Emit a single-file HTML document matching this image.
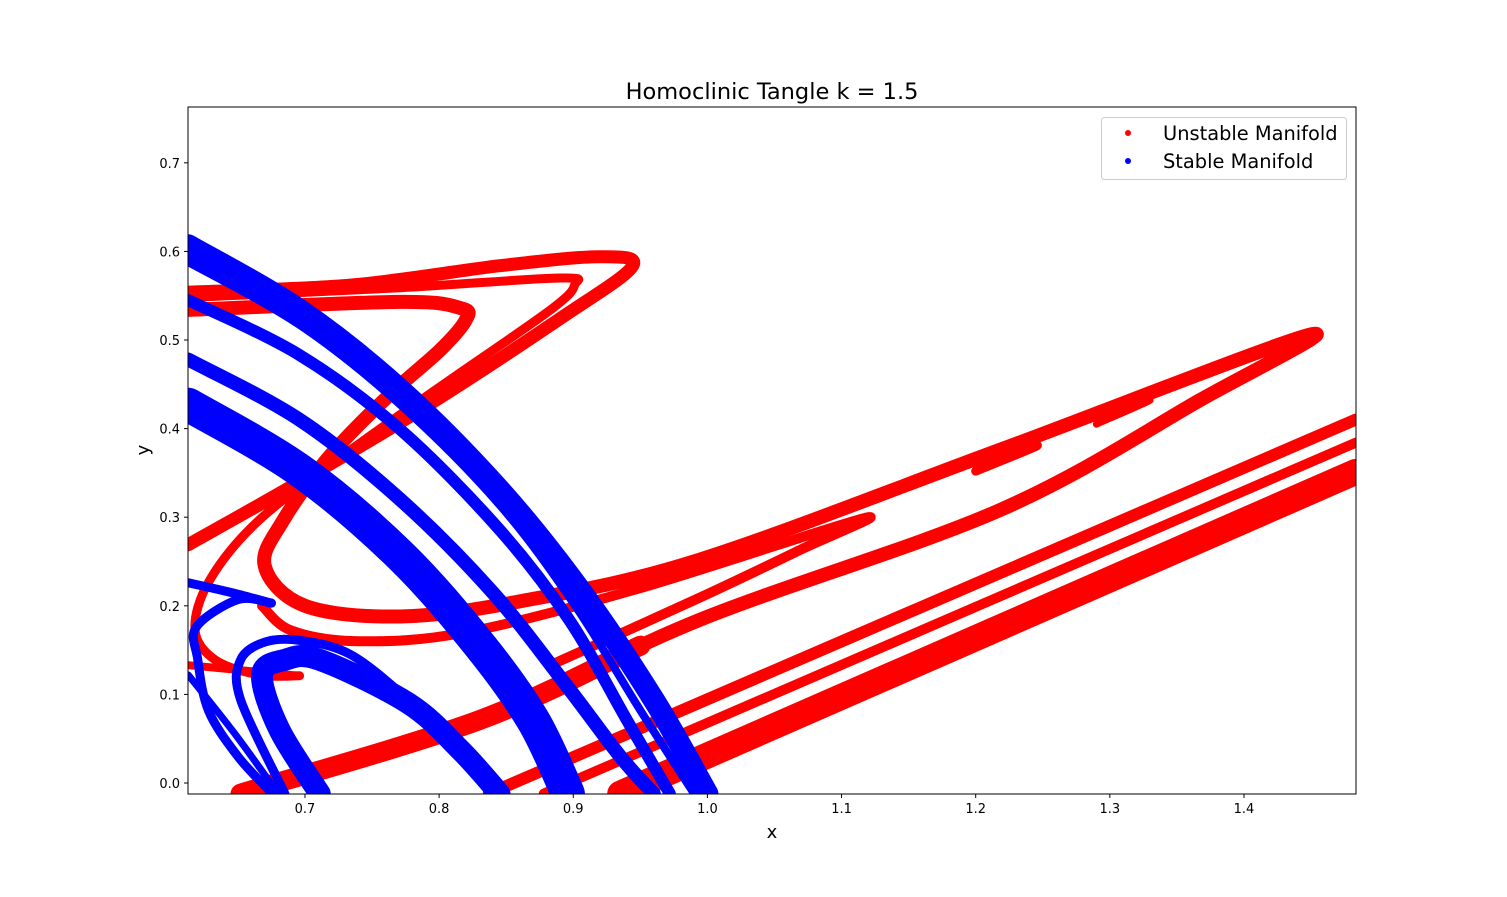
<!DOCTYPE html>
<html><head><meta charset="utf-8"><style>
body{margin:0;background:#fff;}
svg text{font-family:"DejaVu Sans","Liberation Sans",sans-serif;}
</style></head><body>
<svg id="chart" width="1507" height="892" xmlns="http://www.w3.org/2000/svg">
<rect width="1507" height="892" fill="#fff"/>
<defs><clipPath id="plotclip"><rect x="188" y="107" width="1168" height="687"/></clipPath></defs>
<g id="series" clip-path="url(#plotclip)"></g>
<rect x="188" y="107" width="1168" height="687" fill="none" stroke="#000" stroke-width="1"/>
<g id="axes"></g>
<text x="772" y="99" font-size="22.5" text-anchor="middle">Homoclinic Tangle k = 1.5</text>
<text x="772" y="838" font-size="18" text-anchor="middle">x</text>
<text x="149" y="450" font-size="18" text-anchor="middle" transform="rotate(-90 149 450)">y</text>
<g>
<rect x="1101.5" y="117.5" width="245" height="62" rx="3" fill="#fff" fill-opacity="0.8" stroke="#ccc"/>
<circle cx="1128" cy="133" r="3" fill="#ff0000"/>
<text x="1163" y="140" font-size="19.4">Unstable Manifold</text>
<circle cx="1128" cy="161" r="3" fill="#0000ff"/>
<text x="1163" y="168" font-size="19.4">Stable Manifold</text>
</g>
</svg>
<script>
const xTicks=[0.7,0.8,0.9,1.0,1.1,1.2,1.3,1.4];
const yTicks=[0.0,0.1,0.2,0.3,0.4,0.5,0.6,0.7];
const xTickLabels=["0.7","0.8","0.9","1.0","1.1","1.2","1.3","1.4"];
const yTickLabels=["0.0","0.1","0.2","0.3","0.4","0.5","0.6","0.7"];
// unstable manifold (red) branches, data coords [x,y]
const redOuterLoop=[[0.613,0.554],[0.734,0.562],[0.846,0.584],[0.920,0.594],[0.944,0.583],[0.890,0.524],[0.786,0.421],[0.696,0.340],[0.613,0.269]];
const redMiddleLoop=[[0.613,0.548],[0.771,0.559],[0.890,0.570],[0.901,0.562],[0.883,0.534],[0.808,0.455],[0.734,0.376],[0.666,0.297],[0.629,0.229],[0.618,0.173],[0.633,0.139],[0.666,0.122],[0.696,0.121]];
const redBottomLeft=[[0.613,0.133],[0.696,0.121]];
const redBigLoop=[[0.613,0.534],[0.771,0.543],[0.816,0.536],[0.820,0.523],[0.801,0.489],[0.763,0.438],[0.719,0.370],[0.684,0.297],[0.670,0.245],[0.700,0.200],[0.771,0.188],[0.860,0.205],[0.994,0.252],[1.218,0.376],[1.449,0.506],[1.367,0.432],[1.218,0.308],[0.994,0.184],[0.830,0.071],[0.652,-0.012]];
const redLowerArm=[[0.950,0.155],[0.830,0.071],[0.652,-0.012]];
const redTip2=[[0.668,0.200],[0.690,0.172],[0.740,0.160],[0.820,0.170],[0.950,0.220],[1.117,0.299],[1.069,0.263],[0.994,0.209],[0.883,0.133]];
const redTip3=[[1.20,0.360],[1.246,0.381],[1.20,0.352]];
const redTip4=[[1.29,0.410],[1.33,0.432],[1.29,0.405]];
const redBand1=[[0.837,-0.012],[1.483,0.410]];
const redBand2=[[0.878,-0.012],[1.483,0.384]];
const redBand3=[[0.935,-0.012],[1.483,0.351]];
// stable manifold (blue) branches
const blueA=[[0.613,0.607],[0.696,0.534],[0.771,0.444],[0.845,0.331],[0.905,0.218],[0.960,0.094],[1.000,-0.012]];
const blueB=[[0.613,0.588],[0.696,0.517],[0.771,0.427],[0.845,0.314],[0.901,0.201],[0.950,0.082],[0.990,-0.012]];
const blueC=[[0.613,0.545],[0.696,0.483],[0.771,0.399],[0.845,0.286],[0.897,0.184],[0.940,0.071],[0.972,-0.012]];
const blueD=[[0.613,0.478],[0.696,0.410],[0.771,0.320],[0.840,0.215],[0.895,0.110],[0.935,0.030],[0.960,-0.012]];
const blueE=[[0.613,0.427],[0.696,0.353],[0.771,0.257],[0.830,0.156],[0.870,0.071],[0.896,-0.012]];
const blueL1=[[0.613,0.122],[0.648,0.055],[0.680,-0.012]];
const blueHook1=[[0.675,0.203],[0.645,0.215],[0.613,0.226]];
const blueHook2=[[0.675,0.203],[0.650,0.207],[0.619,0.176],[0.620,0.140],[0.628,0.082],[0.650,0.030],[0.675,-0.011]];
const blueLoop1=[[0.685,-0.012],[0.652,0.094],[0.652,0.139],[0.670,0.159],[0.696,0.161],[0.734,0.145],[0.777,0.094],[0.816,0.037],[0.838,-0.012]];
const blueLoop2=[[0.711,-0.012],[0.681,0.060],[0.668,0.122],[0.685,0.139],[0.711,0.139],[0.777,0.090],[0.816,0.037],[0.845,-0.012]];

const X0=0.6128,X1=1.4835,Y0=-0.0124,Y1=0.763;
const PL=188,PR=1356,PT=107,PB=794;
function sx(v){return PL+(v-X0)/(X1-X0)*(PR-PL);}
function sy(v){return PB-(v-Y0)/(Y1-Y0)*(PB-PT);}
const NS="http://www.w3.org/2000/svg";
function pathFor(pts){
  const p=pts.map(d=>[sx(d[0]),sy(d[1])]);
  let s="M"+p[0][0]+","+p[0][1];
  for(let i=0;i<p.length-1;i++){
    const a=p[Math.max(0,i-1)],b=p[i],c=p[i+1],d=p[Math.min(p.length-1,i+2)];
    const c1=[b[0]+(c[0]-a[0])/6,b[1]+(c[1]-a[1])/6];
    const c2=[c[0]-(d[0]-b[0])/6,c[1]-(d[1]-b[1])/6];
    s+=" C"+c1[0]+","+c1[1]+" "+c2[0]+","+c2[1]+" "+c[0]+","+c[1];
  }
  return s;
}
const g=document.getElementById('series');
function draw(pts,color,w,name){
  const el=document.createElementNS(NS,'path');
  el.setAttribute('d',pathFor(pts));
  el.setAttribute('fill','none');
  el.setAttribute('stroke',color);
  el.setAttribute('stroke-width',w);
  el.setAttribute('stroke-linecap','round');
  el.setAttribute('stroke-linejoin','round');
  
  
  g.appendChild(el);
}
const R="#ff0000",B="#0000ff";
draw(redOuterLoop,R,13,'unstable-outer-loop');
draw(redMiddleLoop,R,9,'unstable-middle-loop');
draw(redBottomLeft,R,8,'unstable-bottom-left');
draw(redBigLoop,R,14,'unstable-big-loop');
draw(redLowerArm,R,20,'unstable-lower-arm');
draw(redTip2,R,10,'unstable-tip-2');
draw(redTip3,R,9,'unstable-tip-3');
draw(redTip4,R,7,'unstable-tip-4');
draw(redBand1,R,12,'unstable-band-1');
draw(redBand2,R,10,'unstable-band-2');
draw(redBand3,R,26,'unstable-band-3');
draw(blueA,B,22,'stable-band-a');
draw(blueB,B,8,'stable-band-b');
draw(blueC,B,12,'stable-band-c');
draw(blueD,B,14,'stable-band-d');
draw(blueE,B,34,'stable-band-e');
draw(blueL1,B,7,'stable-lower-1');
draw(blueHook1,B,9,'stable-hook-1');
draw(blueHook2,B,9,'stable-hook-2');
draw(blueLoop1,B,9,'stable-loop-1');
draw(blueLoop2,B,22,'stable-loop-2');

const ax=document.getElementById('axes');
xTicks.forEach((v,i)=>{
  const t=document.createElementNS(NS,'line');
  t.setAttribute('x1',sx(v));t.setAttribute('x2',sx(v));
  t.setAttribute('y1',PB);t.setAttribute('y2',PB+4);
  t.setAttribute('stroke','#000');
  
  
  ax.appendChild(t);
  const l=document.createElementNS(NS,'text');
  l.setAttribute('x',sx(v));l.setAttribute('y',PB+19);
  l.setAttribute('font-size','13');l.setAttribute('text-anchor','middle');
  l.textContent=xTickLabels[i];
  
  
  ax.appendChild(l);
});
yTicks.forEach((v,i)=>{
  const t=document.createElementNS(NS,'line');
  t.setAttribute('x1',PL-4);t.setAttribute('x2',PL);
  t.setAttribute('y1',sy(v));t.setAttribute('y2',sy(v));
  t.setAttribute('stroke','#000');
  
  
  ax.appendChild(t);
  const l=document.createElementNS(NS,'text');
  l.setAttribute('x',PL-8);l.setAttribute('y',sy(v)+5);
  l.setAttribute('font-size','13');l.setAttribute('text-anchor','end');
  l.textContent=yTickLabels[i];
  
  
  ax.appendChild(l);
});
</script>
</body></html>
